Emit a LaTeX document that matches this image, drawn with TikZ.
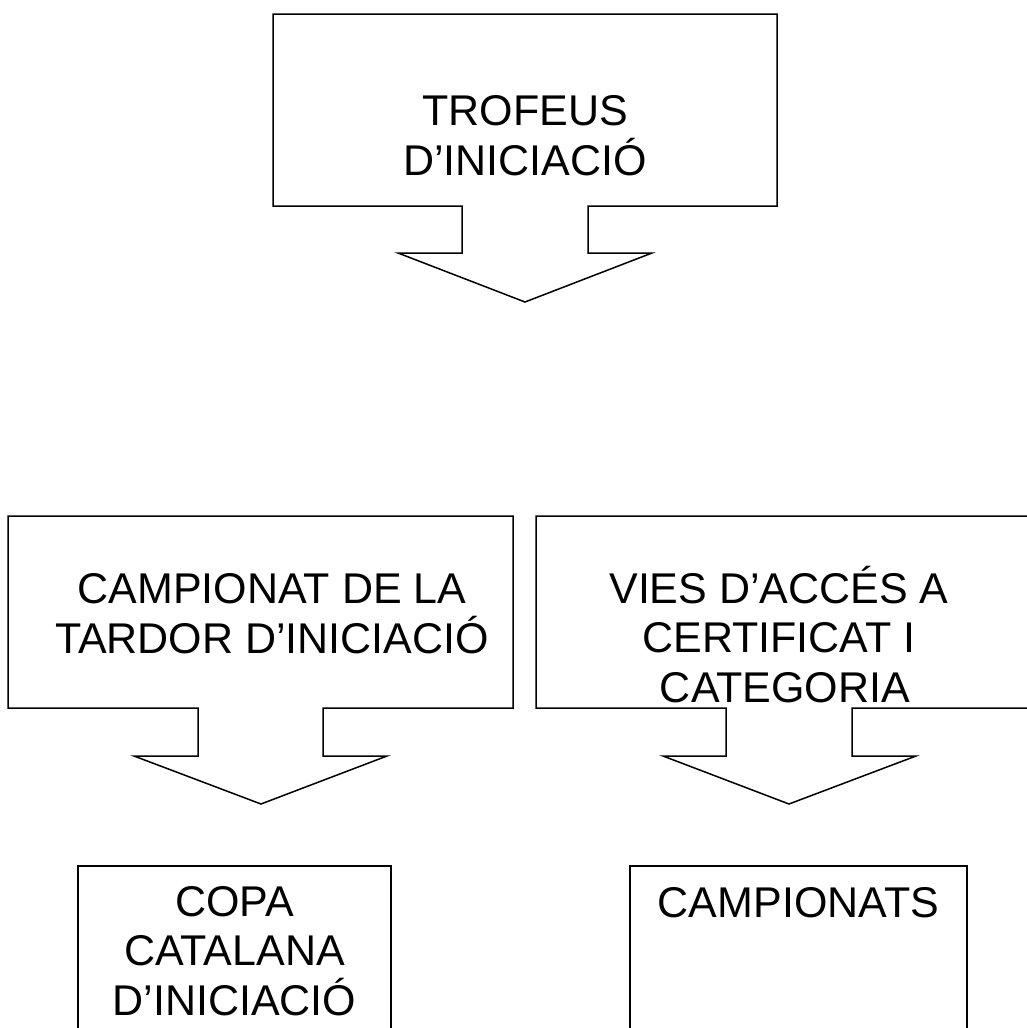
\documentclass[tikz,border=0pt]{standalone}
\usepackage{fontspec}
\setmainfont{Liberation Sans}
\begin{document}
\begin{tikzpicture}[x=1pt,y=-1pt,
  outline/.style={draw=black,line width=1.5pt,line join=miter,fill=white},
  lbl/.style={inner sep=0pt,align=center,anchor=base,
    font=\fontsize{43}{49.5}\selectfont}]
\useasboundingbox (0,0) rectangle (1027,1028);
\clip (0,0) rectangle (1027,1028);
% top callout
\draw[outline] (273,14) -- (777,14) -- (777,206) -- (588,206) -- (588,253) -- (652,253)
  -- (525,302) -- (398,253) -- (462,253) -- (462,206) -- (273,206) -- cycle;
\node[lbl] (t1) at (525,175) {TROFEUS\\D’INICIACIÓ};
% lower left callout
\draw[outline] (8,516) -- (513,516) -- (513,708) -- (323,708) -- (323,756) -- (387,756)
  -- (261,804) -- (134,756) -- (198,756) -- (198,708) -- (8,708) -- cycle;
\node[lbl] (t2) at (272,653) {CAMPIONAT DE LA\\TARDOR D’INICIACIÓ};
% lower right callout
\draw[outline] (536,516) -- (1040,516) -- (1040,708) -- (852,708) -- (852,756) -- (916,756)
  -- (789,804) -- (663,756) -- (726,756) -- (726,708) -- (536,708) -- cycle;
\node[lbl] (t3) at (779,702) {VIES D’ACCÉS A\\CERTIFICAT I\\\hspace*{12pt}CATEGORIA};
% bottom boxes
\draw[outline] (78,866) rectangle (391,1045);
\node[lbl] (b1) at (234.5,1015) {COPA\\CATALANA\\D’INICIACIÓ};
\draw[outline] (630,866) rectangle (967,1045);
\node[lbl] (b2) at (798.5,917) {CAMPIONATS};
\end{tikzpicture}
\end{document}
